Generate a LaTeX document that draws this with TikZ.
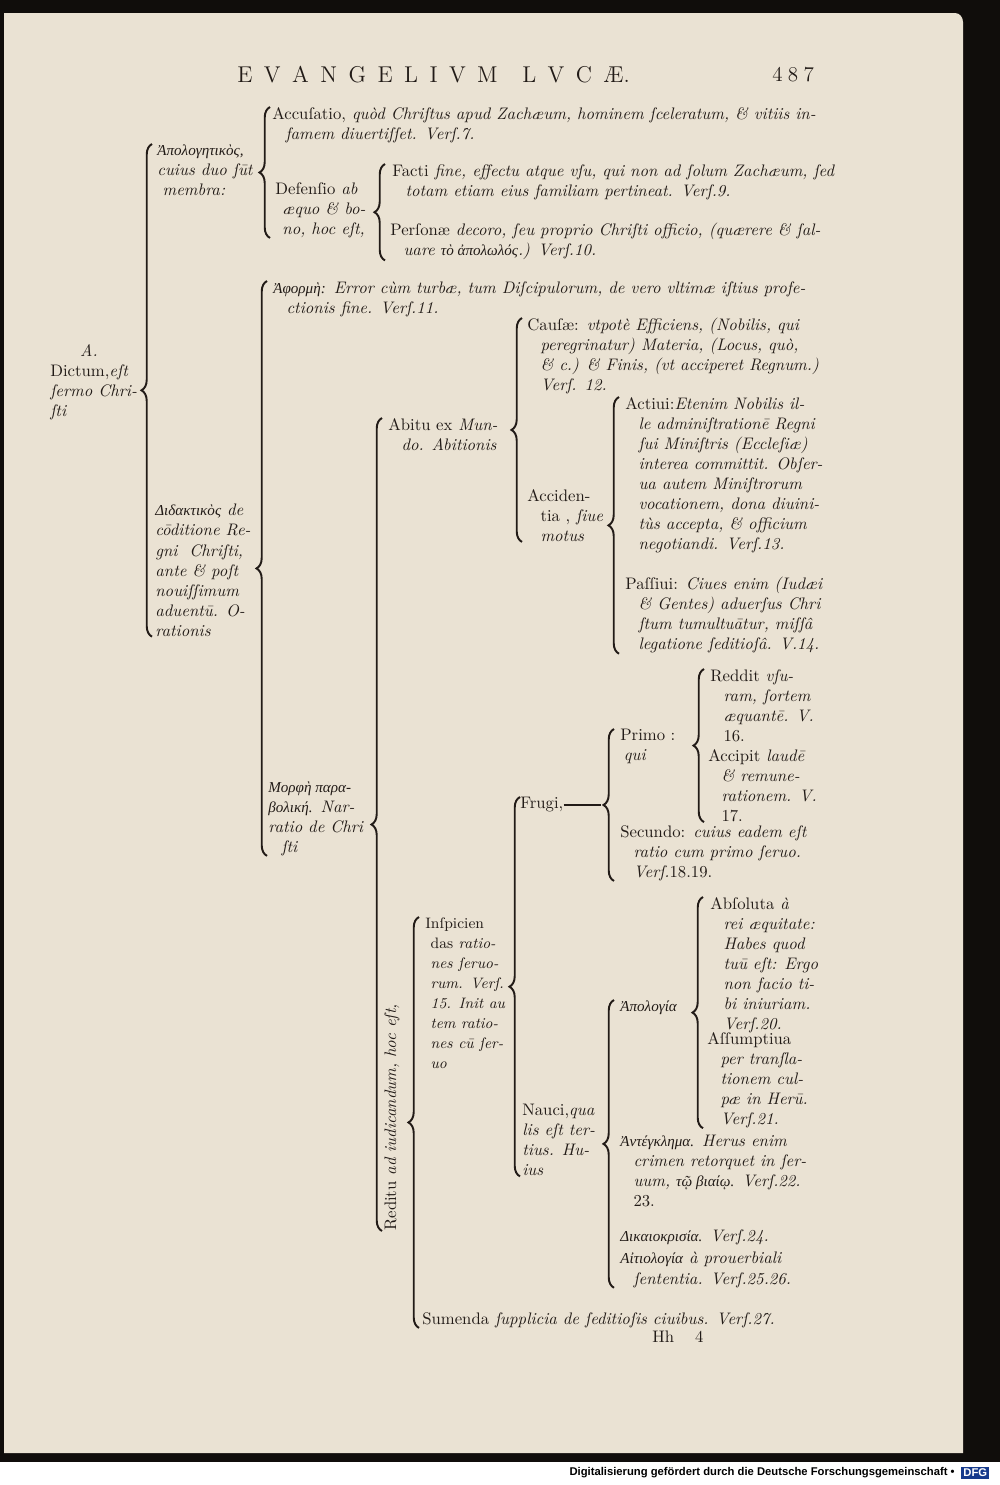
\documentclass[tikz,border=0pt]{standalone}
\usepackage{fontspec}
\usepackage{tikz}
\usetikzlibrary{decorations.pathreplacing,calc}
\newfontfamily\grec{Liberation Serif}
\newfontfamily\dfgfont{Liberation Sans}
\definecolor{papier}{RGB}{234,226,211}
\definecolor{encre}{RGB}{34,27,23}
\definecolor{fond}{RGB}{16,13,11}
\definecolor{dfgbleu}{RGB}{22,58,140}
\newcommand\corps{\fontsize{9.5}{11.4}\selectfont}
\newcommand\gr[1]{{\grec\fontsize{8.6}{11.4}\selectfont #1}}
\newcommand\R[1]{\textup{#1}}
\newcommand\ii{\hspace*{7.5pt}}
\newcommand\esp{\hspace{6.5pt}}
\newcommand\brc[3]{\draw[accol] (#1 |- #3.south) -- (#1 |- #2.north);}
\tikzset{
  txt/.style={anchor=north west, inner sep=0pt, align=left, font=\corps\itshape, text=encre},
  accol/.style={decorate, decoration={brace, amplitude=6pt}, line width=1.1pt, draw=encre},
}
\begin{document}
\begin{tikzpicture}[x=0.02cm, y=-0.02cm]
\useasboundingbox (0,0) rectangle (1000,1485);
%fond et page
\fill[fond] (0,0) rectangle (1000,1462);
\fill[papier] (4,13) -- (955,13) to[out=0,in=90] (963,22) -- (963,1453) -- (4,1453) -- cycle;
\fill[white] (0,1462) rectangle (1000,1485);
\node[anchor=east, inner sep=0pt, font=\dfgfont\bfseries\fontsize{6.4}{7}\selectfont] (credit) at (955,1473) {Digitalisierung gefördert durch die Deutsche Forschungsgemeinschaft •};
\node[anchor=west, fill=dfgbleu, text=white, inner sep=1.2pt, font=\dfgfont\bfseries\fontsize{6.4}{7}\selectfont] (logo) at (961,1473) {DFG};
%titre
\node[anchor=west, inner sep=0pt, text=encre, font=\fontsize{13}{15}\selectfont] (titre) at (237,75) {E\esp V\esp A\esp N\esp G\esp E\esp L\esp I\esp V\esp M\hspace{14pt}L\esp V\esp C\esp Æ.};
\node[anchor=west, inner sep=0pt, text=encre, font=\fontsize{12}{14}\selectfont] (page) at (772,75) {4\hspace{3pt}8\hspace{3pt}7};
%fin

%racine
\node[txt] (dictum) at (50,344) {\hspace*{17pt}A.\\\R{Dictum,}eſt\\ſermo Chri-\\ſti};
\node[txt] (apolog) at (157,144) {\gr{Ἀπολογητικὸς,}\\cuius duo ſūt\\\hspace*{3pt}membra:};
\node[txt] (did) at (155,504) {\gr{Διδακτικὸς} de\\cōditione Re-\\gni \ Chriſti,\\ante \& poſt\\nouiſſimum\\aduentū. O-\\rationis};

%apologetique
\node[txt] (accus) at (272,107) {\R{Accuſatio,} quòd Chriſtus apud Zachæum, hominem ſceleratum, \& vitiis in-\\\ii famem diuertiſſet. Verſ.7.};
\node[txt] (defens) at (275,182) {\R{Defenſio} ab\\\hspace*{4pt}æquo \& bo-\\\hspace*{4pt}no, hoc eſt,};
\node[txt] (facti) at (392,164) {\R{Facti} fine, effectu atque vſu, qui non ad ſolum Zachæum, ſed\\\ii totam etiam eius familiam pertineat. Verſ.9.};
\node[txt] (perſ) at (390,223) {\R{Perſonæ} decoro, ſeu proprio Chriſti officio, (quærere \& ſal-\\\ii uare \gr{τὸ ἀπολωλός}.) Verſ.10.};

%didactique
\node[txt] (aphorme) at (273,281) {\gr{Ἀφορμὴ:} Error cùm turbæ, tum Diſcipulorum, de vero vltimæ iſtius profe-\\\ii ctionis fine. Verſ.11.};
\node[txt] (morphe) at (268,781) {\gr{Μορφὴ παρα-}\\\gr{βολική.} Nar-\\ratio de Chri\\\ii ſti};

%abitu
\node[txt] (abitu) at (388,418) {\R{Abitu ex} Mun-\\\ii do. Abitionis};
\node[txt] (cauſae) at (527,318) {\R{Cauſæ:} vtpotè Efficiens, (Nobilis, qui\\\ii peregrinatur) Materia, (Locus, quò,\\\ii \& c.) \& Finis, (vt acciperet Regnum.)\\\ii Verſ. 12.};
\node[txt] (accid) at (527,489) {\R{Acciden-}\\\ii\R{tia ,} ſiue\\\ii motus};
\node[txt] (actiui) at (625,397) {\R{Actiui:}Etenim Nobilis il-\\\ii le adminiſtrationē Regni\\\ii ſui Miniſtris (Eccleſiæ)\\\ii interea committit. Obſer-\\\ii ua autem Miniſtrorum\\\ii vocationem, dona diuini-\\\ii tùs accepta, \& officium\\\ii negotiandi. Verſ.13.};
\node[txt] (paſſiui) at (625,577) {\R{Paſſiui:} Ciues enim (Iudæi\\\ii \& Gentes) aduerſus Chri\\\ii ſtum tumultuātur, miſſâ\\\ii legatione ſeditioſâ. V.14.};

%reditu
\node[txt, anchor=west, rotate=90] (reditu) at (392,1231) {\R{Reditu} ad iudicandum, hoc eſt,};
\node[txt, font=\fontsize{8.6}{11.4}\selectfont\itshape] (inſp) at (425,917) {\R{Inſpicien}\\\hspace*{3pt}\R{das} ratio-\\\hspace*{3pt}nes ſeruo-\\\hspace*{3pt}rum. Verſ.\\\hspace*{3pt}15. Init au\\\hspace*{3pt}tem ratio-\\\hspace*{3pt}nes cū ſer-\\\hspace*{3pt}uo};
\node[txt] (frugi) at (520,797) {\R{Frugi,}};
\coordinate (pointe) at (601,806);
\node[txt] (primo) at (620,729) {\R{Primo :}\\\hspace*{2pt}qui};
\node[txt] (reddit) at (710,669) {\R{Reddit} vſu-\\\ii ram, ſortem\\\ii æquantē. V.\\\ii\R{16.}};
\node[txt] (accipit) at (708,749) {\R{Accipit} laudē\\\ii\& remune-\\\ii rationem. V.\\\ii\R{17.}};
\node[txt] (secundo) at (620,825) {\R{Secundo:} cuius eadem eſt\\\ii ratio cum primo ſeruo.\\\ii Verſ.\R{18.19.}};
\node[txt] (nauci) at (522,1104) {\R{Nauci,}qua\\lis eſt ter-\\tius. Hu-\\ius};
\node[txt] (apologia) at (620,1000) {\gr{Ἀπολογία}};
\node[txt] (abſol) at (710,897) {\R{Abſoluta} à\\\ii rei æquitate:\\\ii Habes quod\\\ii tuū eſt: Ergo\\\ii non facio ti-\\\ii bi iniuriam.\\\ii Verſ.20.};
\node[txt] (aſſump) at (707,1032) {\R{Aſſumptiua}\\\ii per tranſla-\\\ii tionem cul-\\\ii pæ in Herū.\\\ii Verſ.21.};
\node[txt] (antegk) at (620,1135) {\gr{Ἀντέγκλημα.} Herus enim\\\ii crimen retorquet in ſer-\\\ii uum, \gr{τῷ βιαίῳ.} Verſ.22.\\\ii\R{23.}};
\node[txt] (dikaio) at (620,1229) {\gr{Δικαιοκρισία.} Verſ.24.};
\node[txt] (aitio) at (620,1252) {\gr{Αἰτιολογία} à prouerbiali\\\ii ſententia. Verſ.25.26.};
\node[txt] (sumenda) at (422,1312) {\R{Sumenda} ſupplicia de ſeditioſis ciuibus. Verſ.27.};
\node[txt, anchor=west, font=\corps] (signat) at (652,1337) {Hh\hspace{12pt}4};

%accolades
\brc{152,0}{apolog}{did}
\brc{270,0}{accus}{defens}
\brc{385,0}{facti}{perſ}
\brc{267,0}{aphorme}{morphe}
\draw[accol] (382,0 |- reditu.west) -- (382,0 |- abitu.north);
\brc{522,0}{cauſae}{accid}
\brc{619,0}{actiui}{paſſiui}
\brc{419,0}{inſp}{sumenda}
\brc{520,0}{frugi}{nauci}
\brc{614,0}{primo}{secundo}
\brc{704,0}{reddit}{accipit}
\brc{614,0}{apologia}{aitio}
\brc{703,0}{abſol}{aſſump}
\draw[encre, line width=1.1pt] (frugi.east) -- (frugi.east -| pointe);
\end{tikzpicture}
\end{document}
